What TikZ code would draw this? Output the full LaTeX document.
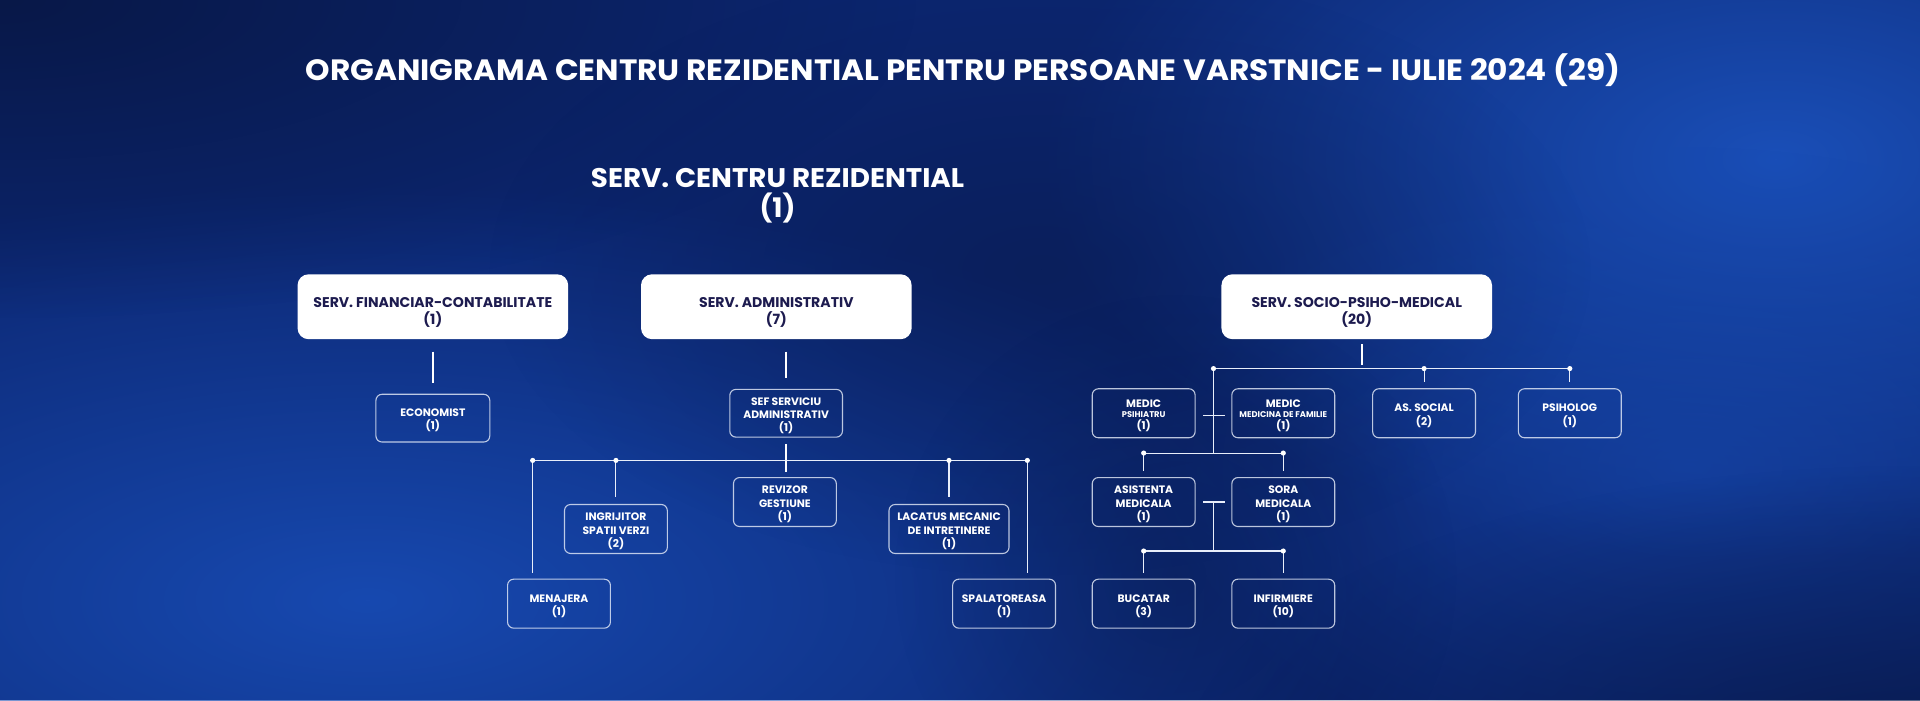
\documentclass[tikz,border=0pt]{standalone}
\usepackage{graphicx}
\usepackage{fontspec}
\setmainfont{Poppins}
\usetikzlibrary{fadings}
\definecolor{bgbase}{HTML}{0C2670}
\definecolor{bgbright}{HTML}{1749B0}
\definecolor{bgbright2}{HTML}{1A4FB8}
\definecolor{bgdark}{HTML}{081848}
\definecolor{navytxt}{HTML}{1D1B4F}
\definecolor{linecol}{HTML}{E8EEFA}
\tikzfading[name=softblob, inner color=transparent!0, outer color=transparent!100]
\newcommand{\smallfnt}{\bfseries\fontsize{8.8}{10.8}\selectfont}
\newcommand{\tinyfnt}{\fontsize{6.8}{8}\selectfont}
% \orgsbox[options]{name}{position}{text}
\newcommand{\orgsbox}[4][]{%
  \node[sbox,#1] (#2) at (#3) {};
  \node[stext] (#2t) at ([yshift=-2pt]#2.center) {#4};}
\newcommand{\orgwbox}[3]{%
  \node[wbox] (#1) at (#2) {};
  \node[wtext] (#1t) at ([yshift=-5pt]#1.center) {#3};}
\begin{document}
\begin{tikzpicture}[x=1pt,y=-1pt,
  wbox/.style={fill=white, rounded corners=9pt, minimum width=221pt, minimum height=53pt, inner sep=0pt},
  wtext/.style={text=navytxt, font=\bfseries\fontsize{11.5}{14}\selectfont, align=center, inner sep=0pt},
  sbox/.style={draw=linecol, draw opacity=.8, line width=0.9pt, rounded corners=5pt,
    minimum width=84pt, minimum height=40pt, inner sep=0pt},
  stext/.style={text=white, font=\smallfnt, align=center, inner sep=0pt},
  conn/.style={draw=linecol, line width=0.9pt},
  trunk/.style={draw=white, line width=1.8pt},
  jdot/.style={fill=white}]
\useasboundingbox (0,0) rectangle (1568,572);
% background
\begin{scope}
\clip (0,0) rectangle (1568,572);
\fill[bgbase] (0,0) rectangle (1568,572);
\fill[bgbright, path fading=softblob] (300,490) ellipse (820 and 340);
\fill[bgbright2, path fading=softblob] (1450,130) ellipse (600 and 330);
\fill[bgbright, opacity=.6, path fading=softblob] (1380,380) ellipse (450 and 260);
\fill[bgdark, opacity=.8, path fading=softblob] (1568,620) ellipse (600 and 240);
\fill[bgdark, path fading=softblob] (0,0) ellipse (750 and 260);
\fill[bgdark, opacity=.5, path fading=softblob] (850,220) ellipse (450 and 250);
\fill[bgdark, opacity=.45, path fading=softblob] (960,470) ellipse (230 and 230);
\end{scope}

% titles
\node[text=white, font=\bfseries\fontsize{24}{28}\selectfont] (title) at (786.5,57)
  {\scalebox{1.06}[1]{ORGANIGRAMA CENTRU REZIDENTIAL PENTRU PERSOANE VARSTNICE - IULIE 2024 (29)}};
\node[text=white, align=center, font=\bfseries\fontsize{22}{25}\selectfont] (ctr) at (635,160)
  {\scalebox{1.03}[1]{SERV. CENTRU REZIDENTIAL}\\(1)};

% top boxes
\orgwbox{fin}{353.5,250.5}{SERV. FINANCIAR-CONTABILITATE\\(1)}
\orgwbox{adm}{634,250.5}{SERV. ADMINISTRATIV\\(7)}
\orgwbox{soc}{1108,250.5}{SERV. SOCIO-PSIHO-MEDICAL\\(20)}

% financial
\orgsbox[minimum width=93pt, minimum height=39pt]{eco}{353.5,341.5}{ECONOMIST\\(1)}

% administrative
\orgsbox[minimum width=92pt, minimum height=39pt]{sef}{642,337.5}{SEF SERVICIU\\ADMINISTRATIV\\(1)}
\orgsbox{rev}{641,410}{REVIZOR\\GESTIUNE\\(1)}
\orgsbox{ingr}{503,432}{INGRIJITOR\\SPATII VERZI\\(2)}
\orgsbox[minimum width=98pt]{lac}{775,432}{LACATUS MECANIC\\DE INTRETINERE\\(1)}
\orgsbox{men}{456.5,493}{MENAJERA\\(1)}
\orgsbox{spa}{820,493}{SPALATOREASA\\(1)}

% socio
\orgsbox{psi}{934,337.5}{MEDIC\\[-2.6pt]{\tinyfnt PSIHIATRU}\\[-1.1pt](1)}
\orgsbox{fam}{1048,337.5}{MEDIC\\[-2.6pt]{\tinyfnt MEDICINA DE FAMILIE}\\[-1.1pt](1)}
\orgsbox{asoc}{1163,337.5}{AS. SOCIAL\\(2)}
\orgsbox{psih}{1282,337.5}{PSIHOLOG\\(1)}
\orgsbox{asist}{934,410}{ASISTENTA\\MEDICALA\\(1)}
\orgsbox{sora}{1048,410}{SORA\\MEDICALA\\(1)}
\orgsbox{buc}{934,493}{BUCATAR\\(3)}
\orgsbox{inf}{1048,493}{INFIRMIERE\\(10)}

% --- connectors: financial
\draw[trunk] ([yshift=-10pt]fin.south) -- ([yshift=9pt]eco.north);

% --- connectors: administrative
\coordinate (admb) at (sef.north |- adm.south);
\draw[trunk] ([yshift=-10pt]admb) -- ([yshift=9pt]sef.north);
\coordinate (revt) at (sef.south |- rev.north);
\draw[trunk] ([yshift=-5pt]sef.south) -- ([yshift=4pt]revt);
\coordinate (abL) at (435,376);
\coordinate (abR) at (839,376);
\coordinate (ab2) at (ingr.north |- abL);
\coordinate (ab4) at (lac.north |- abL);
\draw[conn] (abL) -- (abR);
\draw[conn] (abL) -- ([yshift=5pt]abL |- men.north);
\draw[conn] (ab2) -- ([yshift=6pt]ingr.north);
\draw[conn] (ab4) -- ([yshift=6pt]lac.north);
\draw[conn] (abR) -- ([yshift=5pt]abR |- spa.north);
\foreach \p in {abL,ab2,ab4,abR} \fill[jdot] (\p) circle (2.1);

% --- connectors: socio
\coordinate (socb) at ([xshift=4pt]soc.south);
\coordinate (sbL) at (991,301);
\coordinate (sbR) at (psih.north |- sbL);
\coordinate (sb3) at (asoc.north |- sbL);
\draw[trunk] ([yshift=-4pt]socb) -- ([yshift=3pt]socb |- sbL);
\draw[conn] (sbL) -- (sbR);
\draw[conn] (sb3) -- ([yshift=5pt]asoc.north);
\draw[conn] (sbR) -- ([yshift=5pt]psih.north);
\coordinate (s2L) at (934,370);
\coordinate (s2R) at (sora.north |- s2L);
\coordinate (s2M) at (sbL |- s2L);
\draw[conn] (sbL) -- (s2M);
\draw[conn] ([xshift=6pt,yshift=-2pt]psi.east) -- ([xshift=-5pt,yshift=-2pt]fam.west);
\draw[conn] (s2L) -- (s2R);
\draw[conn] (s2L) -- ([yshift=5pt]asist.north);
\draw[conn] (s2R) -- ([yshift=5pt]sora.north);
\coordinate (tL) at ([xshift=6pt]asist.east);
\coordinate (tR) at ([xshift=-5pt]sora.west);
\coordinate (tM) at (sbL |- tL);
\draw[conn] (tL) -- (tR);
\coordinate (s3L) at (934,450);
\coordinate (s3R) at (inf.north |- s3L);
\coordinate (s3M) at (sbL |- s3L);
\draw[conn] (tM) -- (s3M);
\draw[conn] (s3L) -- (s3R);
\draw[conn] (s3L) -- ([yshift=5pt]buc.north);
\draw[conn] (s3R) -- ([yshift=5pt]inf.north);
\foreach \p in {sbL,sb3,sbR,s2L,s2R,s3L,s3R} \fill[jdot] (\p) circle (2.1);
\end{tikzpicture}
\end{document}
